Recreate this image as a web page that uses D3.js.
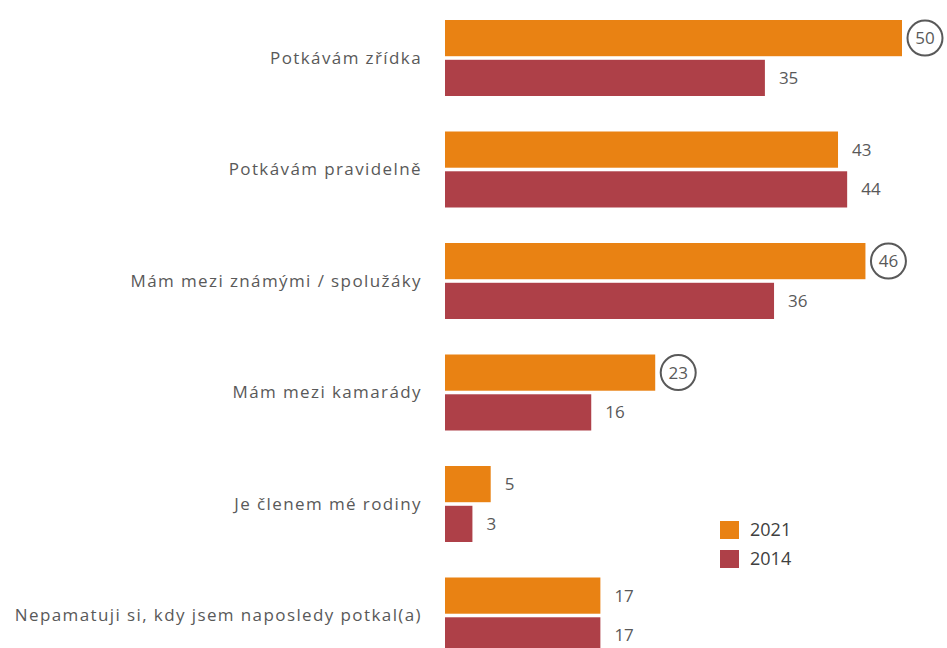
<!DOCTYPE html>
<html>
<head>
<meta charset="utf-8">
<script src="https://cdn.jsdelivr.net/npm/d3@7"></script>
<style>
  body { margin: 0; background: #fff; }
  svg { display: block; }
  text { font-family: "Open Sans", "Liberation Sans", sans-serif; }
</style>
</head>
<body>
<svg id="chart" width="947" height="648"></svg>
<script>
var categories = [
  "Potkávám zřídka",
  "Potkávám pravidelně",
  "Mám mezi známými / spolužáky",
  "Mám mezi kamarády",
  "Je členem mé rodiny",
  "Nepamatuji si, kdy jsem naposledy potkal(a)"
];
var series = ["2021", "2014"];
var values2021 = [50, 43, 46, 23, 5, 17];
var values2014 = [35, 44, 36, 16, 3, 17];
var circled2021 = [true, false, true, true, false, false];

var colors = { "2021": "#E98213", "2014": "#AE4048" };

var svg = d3.select("#chart"),
    width = +svg.attr("width"),
    height = +svg.attr("height");

var x = d3.scaleLinear().domain([0, 50]).range([445, 902]);
var y = d3.scaleBand().domain(categories).range([2, 671]);
var ySub = d3.scaleBand().domain(series).range([18, 94]).paddingInner(0.09);

var rows = categories.map(function(c, i) {
  return { cat: c, vals: [
    { s: "2021", v: values2021[i], circ: circled2021[i] },
    { s: "2014", v: values2014[i], circ: false }
  ]};
});

var group = svg.append("g").selectAll("g")
  .data(rows)
  .enter().append("g")
  .attr("transform", function(d) { return "translate(0," + y(d.cat) + ")"; });

// category label
group.append("text")
  .attr("x", 422)
  .attr("y", (ySub("2021") + ySub("2014") + ySub.bandwidth()) / 2)
  .attr("dy", "0.35em")
  .attr("text-anchor", "end")
  .style("font-size", "17px")
  .style("letter-spacing", "1.4px")
  .style("fill", "#595959")
  .text(function(d) { return d.cat; });

var bar = group.selectAll("g.bar")
  .data(function(d) { return d.vals; })
  .enter().append("g")
  .attr("class", "bar");

bar.append("rect")
  .attr("x", x(0))
  .attr("y", function(d) { return ySub(d.s); })
  .attr("width", function(d) { return x(d.v) - x(0); })
  .attr("height", ySub.bandwidth())
  .style("fill", function(d) { return colors[d.s]; });

// circles around highlighted values
bar.filter(function(d) { return d.circ; })
  .append("circle")
  .attr("cx", function(d) { return x(d.v) + 23; })
  .attr("cy", function(d) { return ySub(d.s) + ySub.bandwidth() / 2; })
  .attr("r", 17.5)
  .style("fill", "none")
  .style("stroke", "#595959")
  .style("stroke-width", 2);

bar.append("text")
  .attr("x", function(d) { return d.circ ? x(d.v) + 23 : x(d.v) + 14; })
  .attr("y", function(d) { return ySub(d.s) + ySub.bandwidth() / 2; })
  .attr("dy", "0.35em")
  .attr("text-anchor", function(d) { return d.circ ? "middle" : "start"; })
  .style("font-size", "17px")
  .style("fill", "#595959")
  .text(function(d) { return d.v; });

// legend
var legend = svg.append("g").selectAll("g")
  .data(series)
  .enter().append("g")
  .attr("transform", function(d, i) { return "translate(720," + (521 + i * 29) + ")"; });

legend.append("rect")
  .attr("width", 19)
  .attr("height", 18)
  .style("fill", function(d) { return colors[d]; });

legend.append("text")
  .attr("x", 30)
  .attr("y", 9)
  .attr("dy", "0.35em")
  .style("font-size", "18px")
  .style("fill", "#404040")
  .text(function(d) { return d; });
</script>
</body>
</html>
